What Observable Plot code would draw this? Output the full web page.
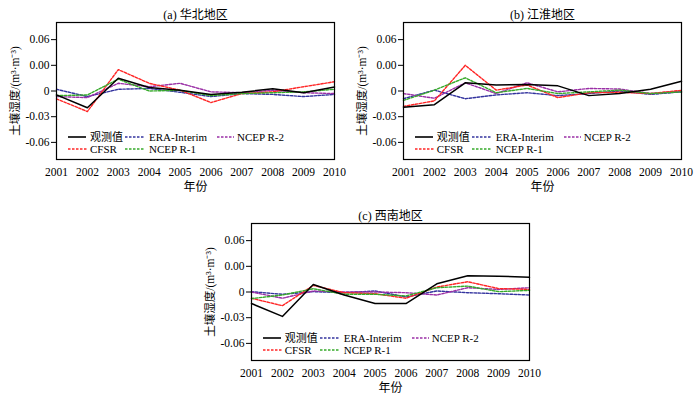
<!DOCTYPE html>
<html>
<head>
<meta charset="utf-8">
<script src="https://cdn.jsdelivr.net/npm/d3@7"></script>
<script src="https://cdn.jsdelivr.net/npm/@observablehq/plot@0.6"></script>
<style>
  html, body { margin: 0; padding: 0; background: #fff; overflow: hidden; }
  body { width: 700px; height: 398px; position: relative; font-family: "Liberation Serif", "Noto Sans CJK SC", serif; }
  .panel { position: absolute; width: 350px; height: 200px; }
  .panel svg { position: absolute; left: 0; top: 0; }
  .leg { position: absolute; font-size: 11px; line-height: 12px; white-space: nowrap; color: #000; }
  .sw { position: absolute; }
</style>
</head>
<body>
<script>
const years = [2001, 2002, 2003, 2004, 2005, 2006, 2007, 2008, 2009, 2010];
const seriesNames = ["观测值", "ERA-Interim", "NCEP R-2", "CFSR", "NCEP R-1"];
const seriesColors = ["#000000", "#34349f", "#9a2fa6", "#ff2626", "#36aa2a"];
const yTicks = [0.06, 0.03, 0, -0.03, -0.06];
const yTickLabels = ["0.06", "0.00", "0", "-0.03", "-0.06"];
const panelTitles = ["(a) 华北地区", "(b) 江淮地区", "(c) 西南地区"];

// (a) 华北地区
const hb_obs  = [-0.0045, -0.0195, 0.0148, 0.0040, 0.0010, -0.0040, -0.0015, 0.0027, -0.0020, 0.0048];
const hb_era  = [0.0020, -0.0065, 0.0020, 0.0030, -0.0015, -0.0065, -0.0030, -0.0040, -0.0065, -0.0040];
const hb_r2   = [-0.0065, -0.0077, 0.0090, 0.0050, 0.0090, -0.0010, -0.0020, 0.0008, -0.0020, -0.0030];
const hb_cfsr = [-0.0092, -0.0240, 0.0250, 0.0090, 0.0010, -0.0135, -0.0030, -0.0010, 0.0050, 0.0108];
const hb_r1   = [-0.0054, -0.0046, 0.0138, 0.0000, 0.0008, -0.0054, -0.0030, -0.0020, -0.0010, 0.0020];

// (b) 江淮地区
const jh_obs  = [-0.0190, -0.0160, 0.0096, 0.0070, 0.0077, 0.0060, -0.0054, -0.0030, 0.0020, 0.0115];
const jh_era  = [-0.0090, 0.0010, -0.0090, -0.0046, -0.0020, -0.0054, -0.0030, 0.0000, -0.0040, -0.0010];
const jh_r2   = [-0.0030, -0.0085, 0.0096, -0.0030, 0.0096, -0.0010, 0.0030, 0.0023, -0.0030, 0.0000];
const jh_cfsr = [-0.0180, -0.0115, 0.0300, 0.0010, 0.0070, -0.0077, -0.0020, -0.0015, -0.0030, 0.0008];
const jh_r1   = [-0.0110, 0.0010, 0.0154, -0.0020, 0.0030, -0.0030, -0.0010, 0.0010, -0.0030, -0.0010];

// (c) 西南地区
const xn_obs  = [-0.0135, -0.0285, 0.0088, -0.0035, -0.0135, -0.0135, 0.0096, 0.0190, 0.0185, 0.0173];
const xn_era  = [0.0004, -0.0027, 0.0004, -0.0008, 0.0012, -0.0058, 0.0012, -0.0008, -0.0020, -0.0035];
const xn_r2   = [0.0000, -0.0073, 0.0012, 0.0000, 0.0000, -0.0008, -0.0035, 0.0050, 0.0030, 0.0050];
const xn_cfsr = [-0.0073, -0.0160, 0.0077, -0.0008, -0.0020, -0.0073, 0.0058, 0.0120, 0.0040, 0.0030];
const xn_r1   = [-0.0077, -0.0035, 0.0038, -0.0027, -0.0027, -0.0046, 0.0050, 0.0069, 0.0004, 0.0019];

const FONT = '"Liberation Serif", "Noto Sans CJK SC", serif';
const ML = 56, MT = 22;

function makePanel(title, arrays, left, top) {
  const rows = [];
  seriesNames.forEach((name, k) => years.forEach((yr, i) => rows.push({year: yr, value: arrays[k][i], series: name})));
  const order = [1, 2, 3, 4, 0];
  const svg = Plot.plot({
    width: 350, height: 200,
    marginLeft: ML, marginRight: 16, marginTop: MT, marginBottom: 41,
    style: {fontFamily: FONT, fontSize: "11.5px", color: "#000", background: "transparent"},
    x: {domain: [2001, 2010], ticks: years, tickFormat: d => String(d), label: null, tickSize: 0, tickPadding: 8},
    y: {domain: [-0.08, 0.08], ticks: yTicks, tickFormat: d => yTickLabels[yTicks.indexOf(d)], label: null, tickSize: 5, tickPadding: 2},
    marks: [
      ...order.map(k => Plot.line(rows.filter(r => r.series === seriesNames[k]), {
        x: "year", y: "value", stroke: seriesColors[k], strokeWidth: k === 0 ? 1.5 : 1.4,
        strokeDasharray: k === 0 ? null : "2.5,1.5"
      })),
      Plot.frame({stroke: "#000", strokeWidth: 1.2}),
      Plot.text([title], {text: d => d, frameAnchor: "top", dy: -12, fontSize: 12}),
      Plot.text(["年份"], {text: d => d, frameAnchor: "bottom", dy: 31, fontSize: 12}),
      Plot.text(["土壤湿度/(m³·m⁻³)"], {text: d => d, frameAnchor: "left", textAnchor: "middle", dx: -41, rotate: -90, fontSize: 11.5})
    ]
  });
  const div = document.createElement("div");
  div.className = "panel";
  div.style.left = left + "px";
  div.style.top = top + "px";
  div.appendChild(svg);
  // legend
  const legPos = [
    {line: 12, len: 18, text: 34, row: 0},
    {line: 69, len: 20, text: 93, row: 0},
    {line: 161, len: 17, text: 181, row: 0},
    {line: 12, len: 20, text: 34, row: 1},
    {line: 69, len: 20, text: 93, row: 1}
  ];
  seriesNames.forEach((name, k) => {
    const p = legPos[k];
    const cy = MT + 115 + p.row * 12;
    const sw = document.createElementNS("http://www.w3.org/2000/svg", "svg");
    sw.setAttribute("class", "sw");
    sw.setAttribute("width", p.len);
    sw.setAttribute("height", 4);
    sw.style.left = (ML + p.line) + "px";
    sw.style.top = (cy - 2) + "px";
    const ln = document.createElementNS("http://www.w3.org/2000/svg", "line");
    ln.setAttribute("x1", 0); ln.setAttribute("x2", p.len);
    ln.setAttribute("y1", 2); ln.setAttribute("y2", 2);
    ln.setAttribute("stroke", seriesColors[k]);
    ln.setAttribute("stroke-width", k === 0 ? 1.6 : 1.4);
    if (k !== 0) ln.setAttribute("stroke-dasharray", "2.5,1.5");
    sw.appendChild(ln);
    div.appendChild(sw);
    const t = document.createElement("div");
    t.className = "leg";
    t.textContent = name;
    t.style.left = (ML + p.text) + "px";
    t.style.top = (cy - 6) + "px";
    div.appendChild(t);
  });
  document.body.appendChild(div);
}

makePanel(panelTitles[0], [hb_obs, hb_era, hb_r2, hb_cfsr, hb_r1], 0, 0);
makePanel(panelTitles[1], [jh_obs, jh_era, jh_r2, jh_cfsr, jh_r1], 346.7, 0);
makePanel(panelTitles[2], [xn_obs, xn_era, xn_r2, xn_cfsr, xn_r1], 194.7, 201);
</script>
</body>
</html>
